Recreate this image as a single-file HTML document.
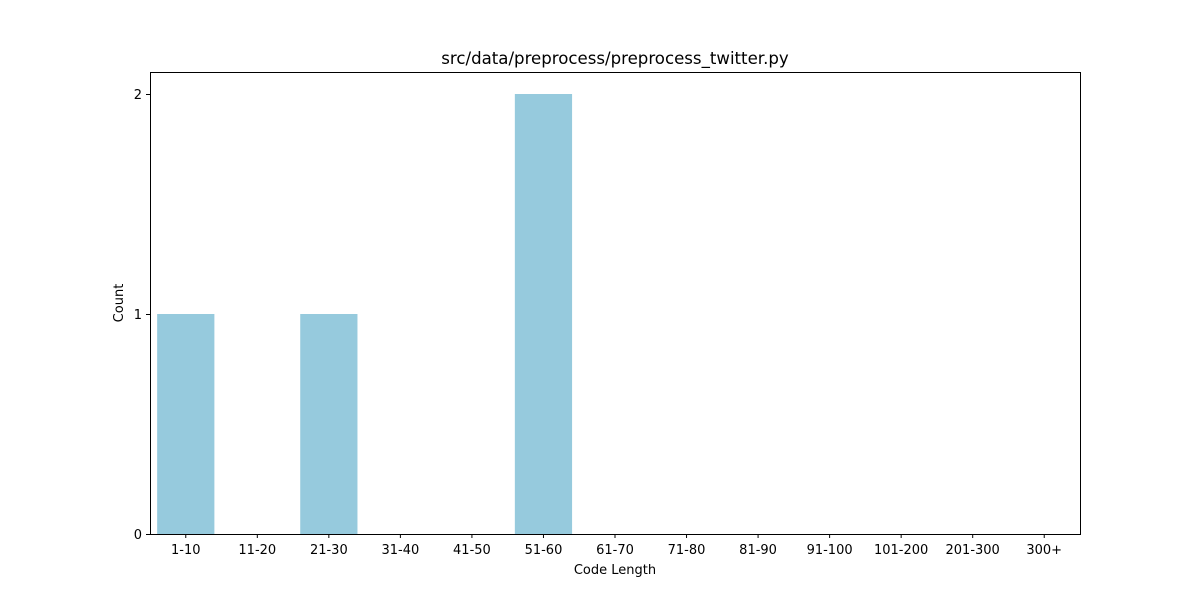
<!DOCTYPE html>
<html><head><meta charset="utf-8"><style>
body{margin:0;background:#fff;font-family:"Liberation Sans","DejaVu Sans",sans-serif;}
</style></head><body>
<svg width="1200" height="600" xmlns="http://www.w3.org/2000/svg" style="font-family:'DejaVu Sans','Liberation Sans',sans-serif">
<rect width="1200" height="600" fill="#fff"/>
<g id="bars"></g>
<rect x="150.5" y="72.5" width="930" height="462" fill="none" stroke="#000" stroke-width="1"/>
<g id="xt"></g><g id="yt"></g>
<text x="615" y="64" font-size="16.6" text-anchor="middle">src/data/preprocess/preprocess_twitter.py</text>
<text x="615" y="574" font-size="13" text-anchor="middle">Code Length</text>
<text x="123" y="303" font-size="13" text-anchor="middle" transform="rotate(-90 123 303)">Count</text>
</svg>
<script>
const categories=["1-10","11-20","21-30","31-40","41-50","51-60","61-70","71-80","81-90","91-100","101-200","201-300","300+"];
const counts=[1,0,1,0,0,2,0,0,0,0,0,0,0];
const yTicks=[0,1,2];
const ns="http://www.w3.org/2000/svg";
const L=150,R=1080,T=72,B=534,ymax=2.1;
const step=(R-L)/categories.length;
const xc=i=>L+step*(i+0.5);
const y=v=>B-(v/ymax)*(B-T);
function mk(t,a,p){const e=document.createElementNS(ns,t);for(const k in a)e.setAttribute(k,a[k]);p.appendChild(e);return e;}
const gb=document.getElementById('bars'),gx=document.getElementById('xt'),gy=document.getElementById('yt');
categories.forEach((c,i)=>{
 const w=step*0.8;
 const r=mk('rect',{x:xc(i)-w/2,y:y(counts[i]),width:w,height:B-y(counts[i]),fill:'#96cadd'},gb);
 
 
 mk('line',{x1:xc(i),x2:xc(i),y1:B,y2:B+4,stroke:'#000'},gx);
 const t=mk('text',{x:xc(i),y:B+20,'font-size':13,'text-anchor':'middle'},gx);
 t.textContent=c;
 
 
});
yTicks.forEach(v=>{
 mk('line',{x1:L-4,x2:L,y1:y(v)+0.5,y2:y(v)+0.5,stroke:'#000'},gy);
 const t=mk('text',{x:L-8,y:y(v)+5,'font-size':13,'text-anchor':'end'},gy);
 t.textContent=v;
 
 
});
</script>
</body></html>
